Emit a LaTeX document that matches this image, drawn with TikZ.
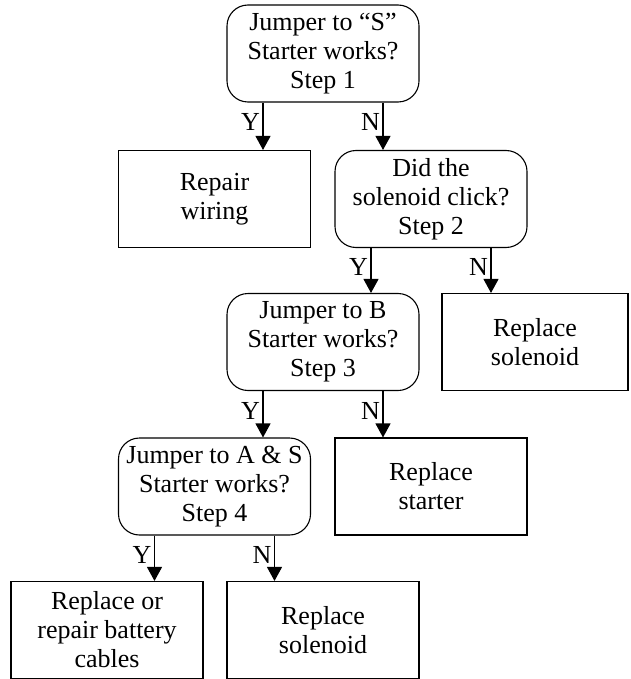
\documentclass[tikz,border=0pt]{standalone}
\usepackage{fontspec}
\setmainfont{Liberation Serif}
\usetikzlibrary{arrows.meta}
\begin{document}
\begin{tikzpicture}[x=1pt,y=-1pt,
  txt/.style={font=\fontsize{26}{29}\selectfont},
  box/.style={txt, draw, line width=1.1pt, minimum width=192pt, minimum height=97pt, align=center, inner sep=0pt},
  dec/.style={box, rounded corners=21pt},
  arr/.style={line width=1.1pt, -{Triangle[length=14pt,width=15pt]}},
  lab/.style={txt, inner sep=2.5pt, left, pos=0.42}]
\useasboundingbox (0,0) rectangle (630,679);
\node[dec] (n1) at (323,53.5) {Jumper to “S”\\Starter works?\\Step 1};
\node[box] (rw) at (214.5,199) {Repair\\wiring};
\node[dec] (n2) at (431,199) {Did the\\solenoid click?\\Step 2};
\node[dec] (n3) at (323,342) {Jumper to B\\Starter works?\\Step 3};
\node[box, minimum width=186pt] (rs1) at (535,342) {Replace\\solenoid};
\node[dec] (n4) at (214.5,486.5) {Jumper to A \& S\\Starter works?\\Step 4};
\node[box] (rst) at (431,486.5) {Replace\\starter};
\node[box] (bat) at (107,630) {Replace or\\repair battery\\cables};
\node[box] (rs2) at (323,630) {Replace\\solenoid};
\draw[arr] ([xshift=-60pt]n1.south) -- node[lab]{Y} ([xshift=-60pt]n1.south |- rw.north);
\draw[arr] ([xshift=60pt]n1.south) -- node[lab]{N} ([xshift=60pt]n1.south |- n2.north);
\draw[arr] ([xshift=-60pt]n2.south) -- node[lab]{Y} ([xshift=-60pt]n2.south |- n3.north);
\draw[arr] ([xshift=60pt]n2.south) -- node[lab]{N} ([xshift=60pt]n2.south |- rs1.north);
\draw[arr] ([xshift=-60pt]n3.south) -- node[lab]{Y} ([xshift=-60pt]n3.south |- n4.north);
\draw[arr] ([xshift=60pt]n3.south) -- node[lab]{N} ([xshift=60pt]n3.south |- rst.north);
\draw[arr] ([xshift=-60pt]n4.south) -- node[lab]{Y} ([xshift=-60pt]n4.south |- bat.north);
\draw[arr] ([xshift=60pt]n4.south) -- node[lab]{N} ([xshift=60pt]n4.south |- rs2.north);
\end{tikzpicture}
\end{document}
